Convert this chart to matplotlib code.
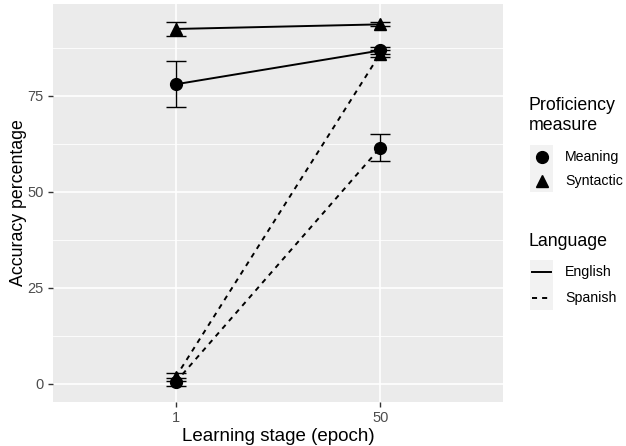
import matplotlib.pyplot as plt
from matplotlib.lines import Line2D
from matplotlib.patches import Rectangle

plt.rcParams['font.family'] = ['Liberation Sans', 'DejaVu Sans']

# data
epochs = ["1", "50"]
languages = ["English", "Spanish"]
measures = ["Meaning", "Syntactic"]

eng_meaning = [78.0, 86.8]
eng_meaning_err = [6.0, 1.0]
eng_syntactic = [92.4, 93.6]
eng_syntactic_err = [1.7, 0.5]
spa_meaning = [0.5, 61.5]
spa_meaning_err = [1.0, 3.5]
spa_syntactic = [1.8, 86.0]
spa_syntactic_err = [1.0, 1.0]

series = [
    ("English", "Meaning", eng_meaning, eng_meaning_err),
    ("English", "Syntactic", eng_syntactic, eng_syntactic_err),
    ("Spanish", "Meaning", spa_meaning, spa_meaning_err),
    ("Spanish", "Syntactic", spa_syntactic, spa_syntactic_err),
]

ls_map = {"English": "-", "Spanish": (0, (2.6, 2.6))}
mk_map = {"Meaning": "o", "Syntactic": "^"}

W, H = 626, 446
fig = plt.figure(figsize=(W / 100, H / 100), dpi=100)
ax = fig.add_axes([53 / W, (H - 402) / H, 450 / W, 398 / H])
ax.set_facecolor("#EBEBEB")

x = [1, 2]
for lang, meas, vals, errs in series:
    ax.errorbar(x, vals, yerr=errs, color="black", linestyle=ls_map[lang],
                linewidth=1.4, elinewidth=1.0, capsize=7.5, capthick=1.0,
                marker=mk_map[meas], markersize=8.5, zorder=3)

ax.set_xlim(0.4, 2.6)
ax.set_ylim(-4.7, 98.9)
ax.set_xticks(x)
ax.set_xticklabels(epochs)
ax.set_yticks([0, 25, 50, 75])
ax.set_yticks([12.5, 37.5, 62.5, 87.5], minor=True)
ax.set_xticks([], minor=True)
ax.grid(True, which="major", color="white", linewidth=1.2)
ax.grid(True, which="minor", axis="y", color="white", linewidth=0.6)
ax.set_axisbelow(True)
for s in ax.spines.values():
    s.set_visible(False)
ax.tick_params(which="major", length=3.5, width=1.0, color="#333333",
               labelcolor="#4D4D4D", labelsize=10.5, pad=3)
ax.tick_params(which="minor", length=0)
ax.set_xlabel("Learning stage (epoch)", fontsize=13.5, labelpad=2)
ax.set_ylabel("Accuracy percentage", fontsize=12.8, labelpad=0.5)

# legends drawn by hand in pixel coords
def px(xp, yp):
    return xp / W, 1 - yp / H

fig.text(*px(529, 105), "Proficiency", fontsize=12.8, va="center", ha="left")
fig.text(*px(529, 125), "measure", fontsize=12.8, va="center", ha="left")
fig.add_artist(Rectangle(px(530, 192), 23 / W, 47 / H, transform=fig.transFigure,
                         facecolor="#F2F2F2", edgecolor="none"))
for i, meas in enumerate(measures):
    yy = 157 + i * 24
    fig.add_artist(Line2D([px(541.5, yy)[0]], [px(541.5, yy)[1]], marker=mk_map[meas],
                          color="black", markersize=8.5, linestyle="none",
                          transform=fig.transFigure))
    fig.text(*px(565, yy), meas, fontsize=10.2, va="center", ha="left")

fig.text(*px(529, 241), "Language", fontsize=12.8, va="center", ha="left")
fig.add_artist(Rectangle(px(530, 310), 23 / W, 50 / H, transform=fig.transFigure,
                         facecolor="#F2F2F2", edgecolor="none"))
for i, lang in enumerate(languages):
    yy = 272 + i * 26
    x0, y0 = px(532, yy)
    x1, _ = px(551, yy)
    fig.add_artist(Line2D([x0, x1], [y0, y0], color="black", linewidth=1.4,
                          linestyle=ls_map[lang], transform=fig.transFigure))
    fig.text(*px(565, yy), lang, fontsize=10.2, va="center", ha="left")

fig.savefig("out.png", dpi=100)
